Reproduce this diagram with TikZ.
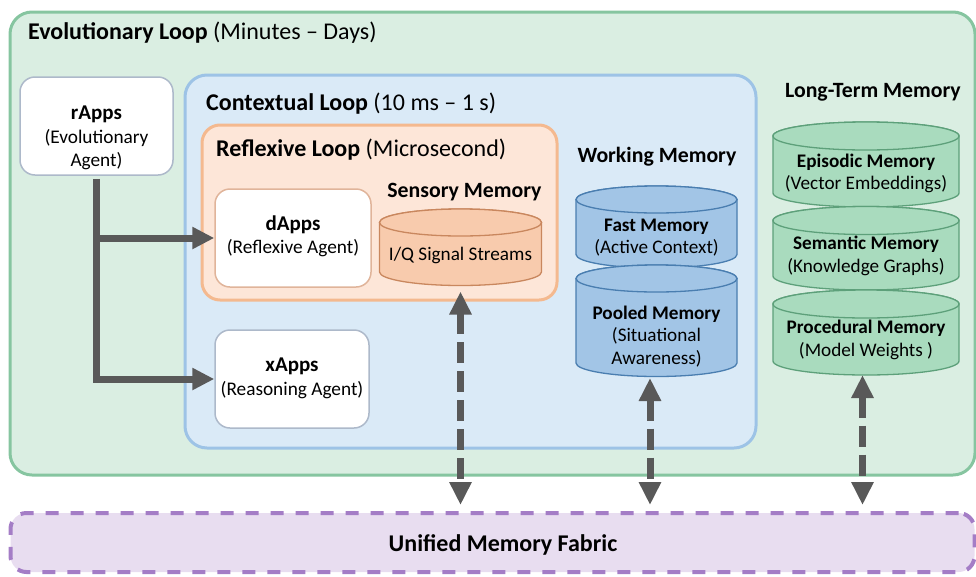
\documentclass[tikz,border=0pt]{standalone}
\usepackage{fontspec}
\setmainfont{Carlito}
\usetikzlibrary{arrows.meta}
\definecolor{evofill}{HTML}{DAEEE2}
\definecolor{evodraw}{HTML}{86C5A0}
\definecolor{ctxfill}{HTML}{DAEAF7}
\definecolor{ctxdraw}{HTML}{9DC3E6}
\definecolor{refill}{HTML}{FDE6D8}
\definecolor{redraw}{HTML}{F4B98F}
\definecolor{agentdraw}{HTML}{ADB9CA}
\definecolor{dappdraw}{HTML}{E0B49A}
\definecolor{sensfill}{HTML}{F8CBAD}
\definecolor{sensdraw}{HTML}{C9875E}
\definecolor{wmfill}{HTML}{A2C5E6}
\definecolor{wmdraw}{HTML}{4A7EB0}
\definecolor{ltfill}{HTML}{A9DBBE}
\definecolor{ltdraw}{HTML}{5DA07A}
\definecolor{fabfill}{HTML}{E8DDF0}
\definecolor{fabdraw}{HTML}{A47DC6}
\definecolor{arrowgray}{HTML}{595959}
\newcommand\titlesz{\fontsize{24}{28}\selectfont}
\newcommand\labsz{\fontsize{21.8}{26}\selectfont}
\newcommand\agsz{\fontsize{19.3}{23.5}\selectfont}
\newcommand\agname[1]{{\fontsize{21}{23.5}\selectfont\textbf{#1}}}
\newcommand\cylsz{\fontsize{19.2}{22.5}\selectfont}
% #1 cx, #2 top-ellipse y, #3 bottom-ellipse y, #4 rx, #5 ry, #6 fill, #7 draw
\newcommand\mycyl[7]{%
  \filldraw[fill=#6,draw=#7,line width=1.3pt]
    (#1-#4,#2) -- (#1-#4,#3) arc[start angle=180,end angle=0,x radius=#4,y radius=#5]
    -- (#1+#4,#2) arc[start angle=0,end angle=-180,x radius=#4,y radius=#5] -- cycle;
  \filldraw[fill=#6,draw=#7,line width=1.3pt] (#1,#2) ellipse[x radius=#4,y radius=#5];}
\tikzset{
  loopbox/.style={draw, rectangle, line width=3pt, inner sep=0pt},
  agentbox/.style={draw=agentdraw, fill=white, rectangle, rounded corners=15pt, line width=1.5pt, inner sep=0pt},
  txt/.style={inner sep=0pt, align=center},
  agtxt/.style={txt, font=\agsz},
  cyltxt/.style={txt, font=\cylsz},
  flow/.style={line width=7pt, draw=arrowgray, -{Triangle[length=22pt,width=21pt]}},
  link/.style={line width=7pt, draw=arrowgray, dash pattern=on 21pt off 8pt,
    {Triangle[length=23pt,width=21pt]}-{Triangle[length=23pt,width=21pt]}},
}
\begin{document}
\begin{tikzpicture}[x=1pt,y=-1pt]
\useasboundingbox (0,0) rectangle (976,576);
% loops
\node[loopbox, draw=evodraw, fill=evofill, rounded corners=22pt,
      minimum width=965pt, minimum height=463pt] (evo) at (492.5,243.5) {};
\node[txt, anchor=base west, font=\titlesz] (evot) at (28,39) {\textbf{Evolutionary Loop} (Minutes – Days)};
\node[loopbox, draw=ctxdraw, fill=ctxfill, rounded corners=22pt,
      minimum width=571pt, minimum height=373pt] (ctx) at (470.5,261.5) {};
\node[txt, anchor=base west, font=\titlesz] (ctxt) at (206,110) {\textbf{Contextual Loop} (10 ms – 1 s)};
\node[loopbox, draw=redraw, fill=refill, rounded corners=18pt,
      minimum width=355pt, minimum height=175pt] (refl) at (379.5,212.5) {};
\node[txt, anchor=base west, font=\titlesz] (reflt) at (216,156) {\textbf{Reflexive Loop} (Microsecond)};
% agents
\node[agentbox, minimum width=153pt, minimum height=98pt] (rapps) at (96.5,126) {};
\node[agtxt] (rappst) at (96.5,138) {\agname{rApps}\\(Evolutionary\\Agent)};
\node[agentbox, draw=dappdraw, minimum width=156pt, minimum height=98pt] (dapps) at (293,238) {};
\node[agtxt] (dappst) at (293,236.5) {\agname{dApps}\\(Reflexive Agent)};
\node[agentbox, minimum width=154pt, minimum height=98pt] (xapps) at (292,379) {};
\node[agtxt] (xappst) at (292,378.5) {\agname{xApps}\\(Reasoning Agent)};
% sensory memory
\node[txt, anchor=base, font=\labsz] (senst) at (464.5,197) {\textbf{Sensory Memory}};
\mycyl{460.5}{222.5}{272}{81}{13.5}{sensfill}{sensdraw}
\node[cyltxt] (iq) at (460.5,255) {I/Q Signal Streams};
\coordinate (sensbot) at (460.5,285.5);
% working memory
\node[txt, anchor=base, font=\labsz] (wmt) at (657,162) {\textbf{Working Memory}};
\mycyl{656.5}{199.5}{254.5}{80.5}{13.5}{wmfill}{wmdraw}
\node[cyltxt] (fast) at (656.5,237.5) {\textbf{Fast Memory}\\(Active Context)};
\mycyl{656.5}{278.5}{363}{80.5}{13.5}{wmfill}{wmdraw}
\node[cyltxt] (pooled) at (656.5,336.3) {\textbf{Pooled Memory}\\(Situational\\Awareness)};
\coordinate (wmbot) at (650,376.5);
% long-term memory
\node[txt, anchor=base, font=\labsz] (ltt) at (873,97) {\textbf{Long-Term Memory}};
\mycyl{866}{136}{193}{93}{14}{ltfill}{ltdraw}
\node[cyltxt] (epi) at (866,173.5) {\textbf{Episodic Memory}\\(Vector Embeddings)};
\mycyl{866}{220.5}{276}{93}{14}{ltfill}{ltdraw}
\node[cyltxt] (sem) at (866,256) {\textbf{Semantic Memory}\\(Knowledge Graphs)};
\mycyl{866}{304}{361}{93}{14}{ltfill}{ltdraw}
\node[cyltxt] (proc) at (866,340) {\textbf{Procedural Memory}\\(Model Weights )};
\coordinate (ltbot) at (862.5,375);
% fabric
\node[draw=fabdraw, fill=fabfill, rectangle, rounded corners=16pt, line width=4pt,
      dash pattern=on 13pt off 12pt, minimum width=964pt, minimum height=59pt, inner sep=0pt]
      (fabric) at (492.5,542.5) {};
\node[txt, font=\titlesz] (fabt) at (503,545) {\textbf{Unified Memory Fabric}};
% flows
\draw[flow] ([yshift=-3pt]rapps.south) -- (rapps.south |- xapps.west) -- (xapps.west);
\draw[flow] (rapps.south |- dapps.west) -- (dapps.west);
% links
\draw[link, shorten <=6pt, shorten >=6pt] (sensbot) -- (sensbot |- fabric.north);
\draw[link, shorten <=1.5pt, shorten >=6pt] (wmbot) -- (wmbot |- fabric.north);
\draw[link, shorten >=6pt] (ltbot) -- (ltbot |- fabric.north);
\end{tikzpicture}
\end{document}
